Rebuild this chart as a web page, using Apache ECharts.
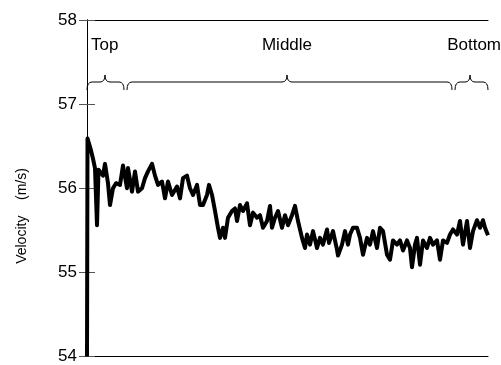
<!DOCTYPE html>
<html><head><meta charset="utf-8">
<script src="https://cdn.jsdelivr.net/npm/echarts@6/dist/echarts.min.js"></script>
<style>html,body{margin:0;padding:0;background:#fff}#c{width:501px;height:365px}</style>
</head><body><div id="c"></div>
<script>
// sample position along the run (arbitrary units)
var positions = [0,0.5,2,4,6,8,9,10,10.5,11.5,13,16,18,21,23,26,29,33,36,40,41,45,48,51,55,58,61,65,68,71,75,78,81,85,90,93,96,100,103,106,110,113,116,120,122,125,128,131,133,136,138,141,145,148,150,153,156,160,163,166,170,173,176,180,183,185,188,191,195,198,201,205,208,211,215,218,220,223,226,230,233,236,240,242,246,250,251,255,258,261,263,266,270,273,276,280,283,286,290,293,296,300,303,306,310,313,316,320,323,325,328,330,333,336,340,343,346,350,353,356,360,363,366,370,373,376,380,383,386,390,393,396,398,401];
var velocity = [54.00,56.59,56.53,56.45,56.35,56.24,56.26,55.56,55.56,56.22,56.20,56.15,56.29,56.06,55.80,56.00,56.06,56.04,56.27,56.00,56.24,55.96,56.20,55.96,56.00,56.12,56.20,56.29,56.15,56.04,56.08,55.88,56.08,55.92,56.02,55.88,56.12,56.15,56.00,55.92,56.04,55.80,55.80,55.92,56.04,55.92,55.73,55.53,55.41,55.53,55.41,55.65,55.73,55.76,55.61,55.80,55.73,55.82,55.56,55.71,55.65,55.68,55.53,55.61,55.79,55.53,55.65,55.73,55.53,55.68,55.56,55.68,55.79,55.61,55.41,55.29,55.45,55.33,55.49,55.29,55.41,55.33,55.51,55.35,55.49,55.27,55.20,55.33,55.49,55.33,55.45,55.53,55.53,55.41,55.21,55.41,55.33,55.49,55.29,55.53,55.49,55.21,55.15,55.38,55.33,55.38,55.26,55.38,55.29,55.06,55.33,55.41,55.09,55.38,55.29,55.41,55.33,55.38,55.15,55.38,55.35,55.45,55.51,55.45,55.61,55.33,55.61,55.29,55.49,55.62,55.53,55.62,55.53,55.44];
var yTicks = [54,55,56,57,58];
var sectionNames = ['Top','Middle','Bottom'];

var data = positions.map(function(p,i){return [p, velocity[i]];});
var chart = echarts.init(document.getElementById('c'), null, {renderer:'canvas'});
var font = 'Liberation Sans, Arial, sans-serif';
function brace(x1,x2,xm){
  var yb=82, ye=90, yt=75, st={stroke:'#000',lineWidth:1,fill:null};
  return [
    {type:'bezierCurve',shape:{x1:x1,y1:ye,cpx1:x1,cpy1:yb,x2:x1+5,y2:yb},style:st},
    {type:'line',shape:{x1:x1+5,y1:yb,x2:xm-5,y2:yb},style:st},
    {type:'bezierCurve',shape:{x1:xm-5,y1:yb,cpx1:xm,cpy1:yb,x2:xm,y2:yt},style:st},
    {type:'bezierCurve',shape:{x1:xm,y1:yt,cpx1:xm,cpy1:yb,x2:xm+5,y2:yb},style:st},
    {type:'line',shape:{x1:xm+5,y1:yb,x2:x2-5,y2:yb},style:st},
    {type:'bezierCurve',shape:{x1:x2-5,y1:yb,cpx1:x2,cpy1:yb,x2:x2,y2:ye},style:st}
  ];
}
var graphics = [
  {type:'text',x:22,y:216,rotation:Math.PI/2,style:{text:'Velocity    (m/s)',font:'14px '+font,fill:'#000',align:'center',verticalAlign:'middle'}},
  {type:'text',x:91,y:45,style:{text:sectionNames[0],font:'17px '+font,fill:'#000',align:'left',verticalAlign:'middle'}},
  {type:'text',x:287,y:45,style:{text:sectionNames[1],font:'17px '+font,fill:'#000',align:'center',verticalAlign:'middle'}},
  {type:'text',x:501,y:45,style:{text:sectionNames[2],font:'17px '+font,fill:'#000',align:'right',verticalAlign:'middle'}}
].concat(brace(87,124,105), brace(127,452,287), brace(455,488,470));

chart.setOption({
  animation:false,
  grid:{left:87,right:13,top:20,bottom:4},
  xAxis:[
    {type:'value',min:0,max:401,position:'bottom',axisLine:{lineStyle:{color:'#000',width:1}},axisTick:{show:false},axisLabel:{show:false},splitLine:{show:false}},
    {type:'value',min:0,max:401,position:'top',axisLine:{lineStyle:{color:'#000',width:1}},axisTick:{show:false},axisLabel:{show:false},splitLine:{show:false}}
  ],
  yAxis:[
    {type:'value',min:54,max:58,interval:1,position:'left',
     axisLine:{show:true,lineStyle:{color:'#000',width:1}},
     axisTick:{show:true,inside:true,length:8,lineStyle:{color:'#555'}},
     axisLabel:{fontFamily:font,fontSize:17,color:'#000',margin:10,formatter:function(v){return yTicks.indexOf(v)>=0?String(v):'';}},
     splitLine:{show:false}},
    {type:'value',min:54,max:58,interval:1,position:'right',
     axisLine:{show:true,lineStyle:{color:'#000',width:1}},
     axisTick:{show:true,inside:true,length:8,lineStyle:{color:'#555'}},
     axisLabel:{show:false},splitLine:{show:false}}
  ],
  series:[{type:'line',data:data,showSymbol:false,symbol:'none',clip:true,
    lineStyle:{color:'#000',width:4,join:'round'},xAxisIndex:0,yAxisIndex:0}],
  graphic:graphics
});
</script></body></html>
